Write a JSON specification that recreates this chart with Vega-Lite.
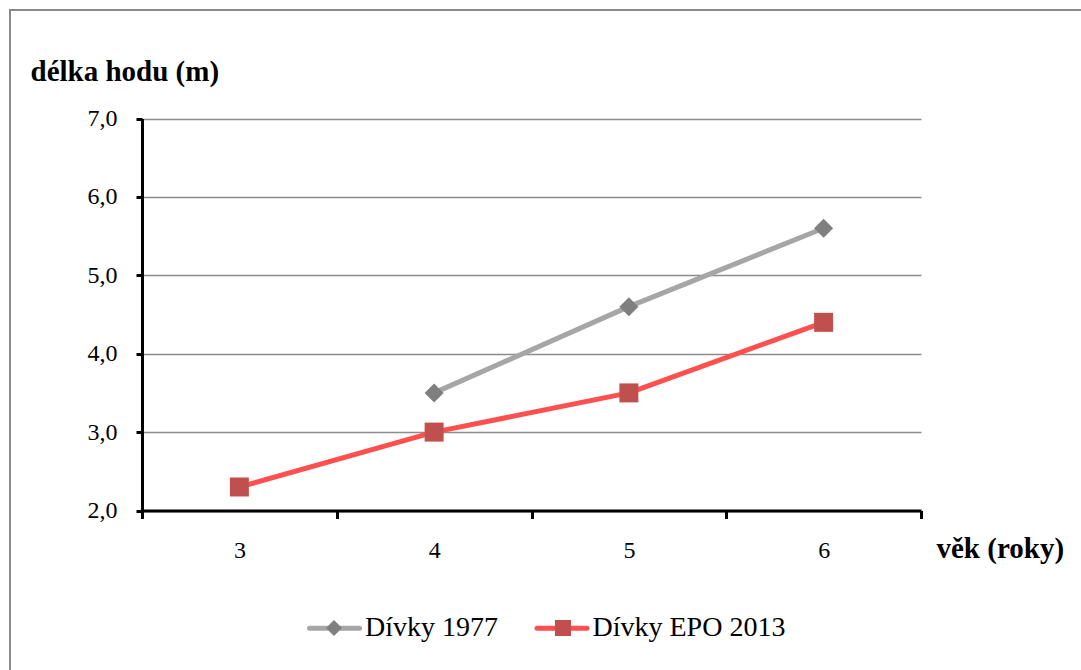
{
  "$schema": "https://vega.github.io/schema/vega-lite/v6.json",
  "width": 1076,
  "height": 665,
  "autosize": {"type": "none"},
  "padding": {"left": 10, "top": 10, "right": -5, "bottom": -5},
  "background": "white",
  "config": {
    "font": "Liberation Serif",
    "view": {"stroke": "#8a8a8a", "strokeWidth": 2, "fill": "white"},
    "axis": {"labelColor": "black", "titleColor": "black", "labelFont": "Liberation Serif", "titleFont": "Liberation Serif"},
    "legend": {"labelColor": "black", "labelFont": "Liberation Serif"}
  },
  "data": {
    "values": [
      {"vek": 4, "delka": 3.5, "serie": "Dívky 1977"},
      {"vek": 5, "delka": 4.6, "serie": "Dívky 1977"},
      {"vek": 6, "delka": 5.6, "serie": "Dívky 1977"},
      {"vek": 3, "delka": 2.3, "serie": "Dívky EPO 2013"},
      {"vek": 4, "delka": 3.0, "serie": "Dívky EPO 2013"},
      {"vek": 5, "delka": 3.5, "serie": "Dívky EPO 2013"},
      {"vek": 6, "delka": 4.4, "serie": "Dívky EPO 2013"}
    ]
  },
  "layer": [
    {
      "mark": {"type": "line", "strokeWidth": 5, "strokeJoin": "round", "strokeCap": "round"},
      "encoding": {
        "x": {
          "field": "vek",
          "type": "ordinal",
          "scale": {"type": "band", "domain": [3, 4, 5, 6], "range": [132, 911], "paddingInner": 0, "paddingOuter": 0},
          "axis": {
            "offset": -164.5,
            "tickBand": "extent",
            "labelAngle": 0,
            "labelFontSize": 24,
            "labelPadding": 20,
            "domainColor": "black",
            "domainWidth": 3,
            "tickColor": "black",
            "tickWidth": 3,
            "tickSize": 8,
            "grid": false,
            "title": "věk (roky)",
            "titleX": 926,
            "titleY": 46.5,
            "titleAlign": "left",
            "titleBaseline": "alphabetic",
            "titleFontSize": 29,
            "titleFontWeight": "bold"
          }
        },
        "y": {
          "field": "delka",
          "type": "quantitative",
          "scale": {"domain": [2, 7], "range": [500.5, 108.5], "nice": false, "zero": false},
          "axis": {
            "offset": -132,
            "values": [2, 3, 4, 5, 6, 7],
            "labelExpr": "replace(format(datum.value, '.1f'), '.', ',')",
            "labelFontSize": 24,
            "labelPadding": 19,
            "domainColor": "black",
            "domainWidth": 3,
            "tickColor": "black",
            "tickWidth": 3,
            "tickSize": 6,
            "grid": true,
            "gridColor": "#8c8c8c",
            "gridWidth": 1.5,
            "title": "délka hodu (m)",
            "titleAngle": 0,
            "titleX": -112,
            "titleY": 70,
            "titleAlign": "left",
            "titleBaseline": "alphabetic",
            "titleFontSize": 29,
            "titleFontWeight": "bold"
          }
        },
        "stroke": {
          "field": "serie",
          "type": "nominal",
          "scale": {"domain": ["Dívky 1977", "Dívky EPO 2013"], "range": ["#a6a6a6", "#ff4f4f"]},
          "legend": {
            "orient": "none",
            "legendX": 297,
            "legendY": 590.5,
            "direction": "horizontal",
            "title": null,
            "padding": 0,
            "symbolType": "stroke",
            "symbolSize": 2500,
            "symbolStrokeWidth": 5,
            "labelFontSize": 28,
            "labelOffset": 3,
            "labelLimit": 400,
            "columnPadding": 28.5,
            "encode": {"symbols": {"update": {"strokeCap": {"value": "round"}}}}
          }
        }
      }
    },
    {
      "mark": {"type": "point", "filled": true, "opacity": 1, "size": 361},
      "encoding": {
        "x": {"field": "vek", "type": "ordinal"},
        "y": {"field": "delka", "type": "quantitative"},
        "fill": {
          "field": "serie",
          "type": "nominal",
          "scale": {"range": ["#7f7f7f", "#c0504d"]},
          "legend": {
            "orient": "none",
            "legendX": 316,
            "legendY": 610,
            "direction": "horizontal",
            "title": null,
            "padding": 0,
            "zindex": 1,
            "symbolSize": 256,
            "symbolStrokeWidth": 0,
            "symbolOpacity": 1,
            "labelFontSize": 1,
            "labelExpr": "''",
            "labelOffset": 0,
            "columnPadding": 213
          }
        },
        "shape": {
          "field": "serie",
          "type": "nominal",
          "scale": {"range": ["diamond", "square"]},
          "legend": {
            "orient": "none",
            "legendX": 316,
            "legendY": 610,
            "direction": "horizontal",
            "title": null,
            "padding": 0,
            "zindex": 1,
            "symbolSize": 256,
            "symbolStrokeWidth": 0,
            "symbolOpacity": 1,
            "labelFontSize": 1,
            "labelExpr": "''",
            "labelOffset": 0,
            "columnPadding": 213
          }
        }
      }
    }
  ]
}
